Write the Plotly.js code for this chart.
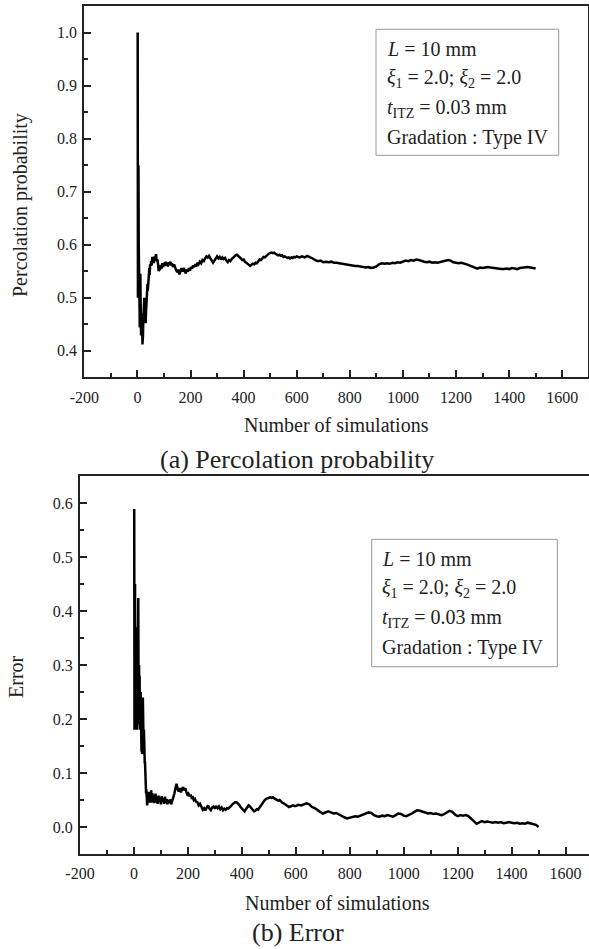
<!DOCTYPE html>
<html>
<head>
<meta charset="utf-8">
<script src="https://cdn.plot.ly/plotly-3.0.1.min.js"></script>
<style>html,body{margin:0;padding:0;background:#fff;}#chart{width:589px;height:949px;}</style>
</head>
<body>
<div id="chart"></div>
<script>
// ---- data ----
const simulations = [
1,2,3,4,5,6,7,8,9,10,
11,12,13,14,15,16,17,18,19,20,
21,22,23,24,25,26,27,28,29,30,
31,32,33,34,35,36,37,38,39,40,
41,42,43,44,45,46,47,48,49,50,
52,54,56,58,60,62,64,66,68,70,
72,74,76,78,80,82,85,88,91,94,
97,100,103,106,109,112,115,118,121,124,
127,130,134,138,142,146,150,154,158,162,
166,170,174,178,182,186,190,194,198,202,
206,210,214,218,222,226,230,235,240,245,
250,255,260,265,270,275,280,285,290,295,
300,305,310,315,320,325,330,335,340,345,
350,355,360,365,370,375,380,385,390,395,
400,405,410,415,420,425,430,435,440,445,
450,455,460,465,470,475,480,485,490,495,
500,505,510,515,520,525,530,535,540,545,
550,555,560,565,570,575,580,585,590,595,
600,610,620,630,640,650,660,670,680,690,
700,710,720,730,740,750,760,770,780,790,
800,810,820,830,840,850,860,870,880,890,
900,910,920,930,940,950,960,970,980,990,
1000,1010,1020,1030,1040,1050,1060,1070,1080,1090,
1100,1110,1120,1130,1140,1150,1160,1170,1180,1190,
1200,1210,1220,1230,1240,1250,1260,1270,1280,1290,
1300,1310,1320,1330,1340,1350,1360,1370,1380,1390,
1400,1410,1420,1430,1440,1450,1460,1470,1480,1490,
1500
];

const percolationProbability = [
1.0,0.5,0.667,0.75,0.6,0.5,0.583,0.5,0.444,0.5,
0.545,0.5,0.462,0.429,0.467,0.438,0.471,0.444,0.412,0.45,
0.429,0.455,0.478,0.5,0.48,0.5,0.481,0.464,0.483,0.467,
0.452,0.469,0.485,0.5,0.514,0.5,0.514,0.526,0.513,0.525,
0.537,0.548,0.535,0.545,0.556,0.543,0.553,0.563,0.551,0.56,
0.569,0.561,0.577,0.569,0.574,0.565,0.578,0.57,0.575,0.582,
0.574,0.568,0.572,0.56,0.55,0.556,0.552,0.562,0.555,0.565,
0.558,0.566,0.56,0.568,0.561,0.566,0.559,0.567,0.562,0.568,
0.561,0.565,0.558,0.563,0.556,0.552,0.548,0.553,0.544,0.551,
0.556,0.549,0.556,0.551,0.546,0.553,0.549,0.556,0.551,0.558,
0.555,0.561,0.558,0.563,0.559,0.566,0.563,0.568,0.565,0.571,
0.569,0.574,0.578,0.576,0.579,0.574,0.569,0.566,0.57,0.574,
0.578,0.574,0.577,0.572,0.576,0.573,0.575,0.57,0.567,0.571,
0.569,0.573,0.576,0.579,0.58,0.581,0.579,0.577,0.574,0.571,
0.572,0.568,0.566,0.563,0.561,0.56,0.562,0.564,0.563,0.566,
0.565,0.568,0.572,0.571,0.575,0.577,0.576,0.579,0.581,0.583,
0.584,0.585,0.584,0.585,0.583,0.582,0.58,0.581,0.579,0.58,
0.577,0.578,0.576,0.575,0.576,0.574,0.576,0.575,0.577,0.576,
0.578,0.576,0.578,0.576,0.579,0.577,0.574,0.571,0.569,0.57,
0.567,0.568,0.567,0.568,0.566,0.566,0.565,0.564,0.563,0.563,
0.562,0.561,0.56,0.56,0.559,0.558,0.557,0.558,0.556,0.557,
0.559,0.563,0.565,0.564,0.565,0.564,0.566,0.565,0.567,0.566,
0.568,0.57,0.569,0.571,0.57,0.572,0.571,0.569,0.568,0.567,
0.568,0.566,0.567,0.566,0.567,0.568,0.57,0.571,0.57,0.567,
0.566,0.565,0.566,0.565,0.563,0.561,0.559,0.556,0.555,0.557,
0.556,0.557,0.558,0.557,0.556,0.556,0.555,0.554,0.554,0.555,
0.554,0.556,0.555,0.554,0.556,0.557,0.558,0.558,0.557,0.556,
0.555
];

const errorValues = [
0.589,0.18,0.2,0.45,0.22,0.3,0.18,0.37,0.2,0.32,
0.18,0.29,0.2,0.33,0.22,0.424,0.26,0.19,0.3,0.2,
0.28,0.18,0.26,0.2,0.25,0.15,0.24,0.14,0.22,0.135,
0.2,0.14,0.24,0.15,0.2,0.14,0.18,0.13,0.16,0.12,
0.12,0.1,0.065,0.08,0.062,0.07,0.045,0.06,0.04,0.055,
0.06,0.045,0.065,0.048,0.062,0.045,0.068,0.05,0.063,0.046,
0.06,0.044,0.058,0.045,0.062,0.048,0.056,0.043,0.058,0.046,
0.055,0.042,0.057,0.047,0.054,0.043,0.056,0.045,0.052,0.042,
0.05,0.044,0.051,0.042,0.048,0.055,0.062,0.072,0.08,0.07,
0.066,0.072,0.064,0.07,0.074,0.068,0.072,0.065,0.06,0.062,
0.057,0.06,0.054,0.055,0.05,0.052,0.047,0.046,0.04,0.043,
0.037,0.032,0.035,0.031,0.036,0.04,0.034,0.031,0.036,0.038,
0.034,0.039,0.035,0.038,0.033,0.036,0.031,0.034,0.032,0.035,
0.034,0.036,0.039,0.042,0.045,0.046,0.046,0.044,0.041,0.037,
0.034,0.03,0.029,0.033,0.037,0.04,0.038,0.035,0.032,0.029,
0.03,0.033,0.032,0.036,0.04,0.044,0.047,0.05,0.052,0.053,
0.054,0.055,0.054,0.055,0.053,0.052,0.05,0.049,0.05,0.047,
0.045,0.044,0.042,0.04,0.039,0.037,0.038,0.039,0.04,0.039,
0.039,0.041,0.04,0.042,0.044,0.042,0.037,0.035,0.031,0.028,
0.025,0.027,0.029,0.027,0.025,0.026,0.023,0.02,0.018,0.016,
0.017,0.018,0.02,0.019,0.021,0.023,0.025,0.027,0.026,0.022,
0.02,0.019,0.021,0.02,0.022,0.021,0.019,0.022,0.025,0.024,
0.021,0.02,0.022,0.025,0.028,0.031,0.03,0.028,0.027,0.025,
0.026,0.024,0.025,0.023,0.022,0.024,0.027,0.03,0.028,0.023,
0.02,0.022,0.021,0.022,0.02,0.016,0.011,0.006,0.008,0.011,
0.009,0.01,0.009,0.008,0.009,0.008,0.009,0.007,0.008,0.009,
0.008,0.007,0.008,0.006,0.007,0.006,0.008,0.007,0.006,0.004,
0.0
];

const xTickVals = [-200,0,200,400,600,800,1000,1200,1400,1600];
const xTickText = ['-200','0','200','400','600','800','1000','1200','1400','1600'];

const legendLines = [
  '<i>L</i> = 10 mm',
  '<i>ξ</i><sub>1</sub> = 2.0; <i>ξ</i><sub>2</sub> = 2.0',
  '<i>t</i><sub>ITZ</sub> = 0.03 mm',
  'Gradation : Type IV'
];

// ---- layout helpers ----
const W = 589, H = 949;
const px = v => v / W;
const py = v => 1 - v / H;
const FONT = 'Liberation Serif';
const INK = '#222';

function xAxis(domain, range, anchor) {
  return {
    domain: domain, range: range, anchor: anchor,
    tickmode: 'array', tickvals: xTickVals, ticktext: xTickText,
    ticks: 'inside', ticklen: 7, tickwidth: 2, tickcolor: INK,
    minor: {ticks: 'inside', ticklen: 4, tickwidth: 2, tickcolor: INK, tickmode: 'linear', tick0: -100, dtick: 200, showgrid: false},
    showline: true, linewidth: 2, linecolor: INK, mirror: true,
    showgrid: false, zeroline: false,
    tickfont: {family: FONT, size: 16, color: INK},
    ticklabelstandoff: 4
  };
}
function yAxis(domain, range, anchor) {
  return {
    domain: domain, range: range, anchor: anchor,
    tickmode: 'linear', tick0: 0, dtick: 0.1, tickformat: '.1f',
    ticks: 'inside', ticklen: 7, tickwidth: 2, tickcolor: INK,
    minor: {ticks: 'inside', ticklen: 4, tickwidth: 2, tickcolor: INK, tickmode: 'linear', tick0: 0.05, dtick: 0.1, showgrid: false},
    showline: true, linewidth: 2, linecolor: INK, mirror: true,
    showgrid: false, zeroline: false,
    tickfont: {family: FONT, size: 16, color: INK},
    ticklabelstandoff: 2
  };
}

const traces = [
  {x: simulations, y: percolationProbability, xaxis: 'x', yaxis: 'y', type: 'scatter', mode: 'lines',
   line: {color: '#000', width: 2.5}, hoverinfo: 'skip'},
  {x: simulations, y: errorValues, xaxis: 'x2', yaxis: 'y2', type: 'scatter', mode: 'lines',
   line: {color: '#000', width: 2.5}, hoverinfo: 'skip'}
];

function ann(text, x, y, size, extra) {
  return Object.assign({text: text, x: px(x), y: py(y), xref: 'paper', yref: 'paper',
    showarrow: false, xanchor: 'center', yanchor: 'middle', borderpad: 0,
    font: {family: FONT, size: size, color: INK}}, extra || {});
}

const annotations = [
  ann('Percolation probability', 20, 205, 20, {textangle: -90}),
  ann('Number of simulations', 336, 425, 20),
  ann('(a) Percolation probability', 297, 459, 26),
  ann('Error', 16, 677, 20, {textangle: -90}),
  ann('Number of simulations', 337, 903, 20),
  ann('(b) Error', 297.5, 948, 26, {yanchor: 'bottom'})
];
const boxes = [
  {left: 376, top: 29.3, right: 558.7, bottom: 155.3, textX: 385.5},
  {left: 371.7, top: 539.3, right: 557.3, bottom: 666.7, textX: 380.5}
];
const lineOffsets = [20, 48, 78, 108];
const shapes = [];
boxes.forEach(b => {
  shapes.push({type: 'rect', xref: 'paper', yref: 'paper',
    x0: px(b.left), x1: px(b.right), y0: py(b.bottom), y1: py(b.top),
    line: {color: '#999', width: 1}, fillcolor: 'rgba(0,0,0,0)', layer: 'above'});
  legendLines.forEach((t, i) => {
    annotations.push(ann(t, b.textX, b.top + lineOffsets[i] + (i === 1 || i === 2 ? 1 : 0), 20, {xanchor: 'left'}));
  });
});

const layout = {
  width: W, height: H,
  margin: {l: 0, r: 0, t: 0, b: 0, pad: 0},
  paper_bgcolor: '#fff', plot_bgcolor: '#fff',
  showlegend: false,
  xaxis: xAxis([px(84.3), px(588)], [-200, 1697], 'y'),
  yaxis: yAxis([py(377.3), py(6)], [0.35, 1.05], 'x'),
  xaxis2: xAxis([px(80), px(588.5)], [-200, 1685], 'y2'),
  yaxis2: yAxis([py(854), py(476)], [-0.05, 0.65], 'x2'),
  annotations: annotations,
  shapes: shapes
};

Plotly.newPlot('chart', traces, layout, {staticPlot: true, displayModeBar: false});
</script>
</body>
</html>
